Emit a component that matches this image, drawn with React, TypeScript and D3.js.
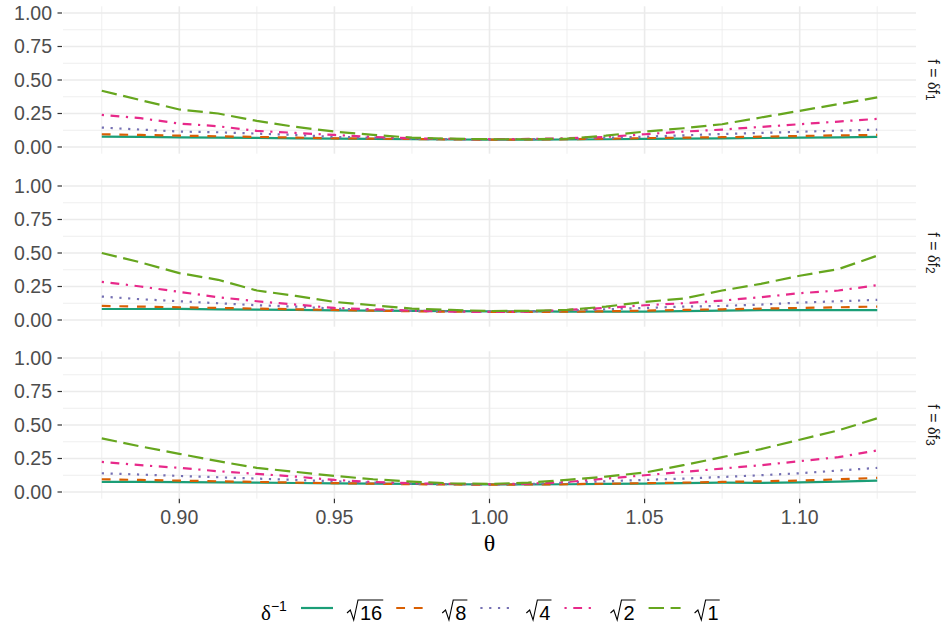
import React from "react";
import * as d3 from "d3";

// theta grid shared by every curve
const theta = [
  0.875, 0.8875, 0.9, 0.9125, 0.925, 0.9375, 0.95, 0.9625, 0.975, 0.9875, 1.0,
  1.0125, 1.025, 1.0375, 1.05, 1.0625, 1.075, 1.0875, 1.1, 1.1125, 1.125,
];

// delta^-1 levels, legend order
const deltaLabels = ["16", "8", "4", "2", "1"];
const lineColors = ["#1B9E77", "#D95F02", "#7570B3", "#E7298A", "#66A61E"];
const lineDashes = ["", "8.8 8.8", "2.2 6.6", "2.2 6.6 8.8 6.6", "15.4 6.6"];

// facet f = delta f1
const f1_sqrt16 = [0.077, 0.075, 0.072, 0.07, 0.068, 0.065, 0.063, 0.06, 0.058, 0.056, 0.055, 0.055, 0.056, 0.058, 0.06, 0.062, 0.065, 0.067, 0.07, 0.072, 0.075];
const f1_sqrt8 = [0.095, 0.09, 0.085, 0.08, 0.075, 0.07, 0.065, 0.062, 0.06, 0.057, 0.055, 0.056, 0.058, 0.062, 0.066, 0.07, 0.073, 0.077, 0.082, 0.087, 0.09];
const f1_sqrt4 = [0.145, 0.13, 0.115, 0.11, 0.1, 0.09, 0.075, 0.07, 0.06, 0.058, 0.057, 0.058, 0.06, 0.068, 0.077, 0.087, 0.097, 0.105, 0.114, 0.122, 0.13];
const f1_sqrt2 = [0.24, 0.215, 0.175, 0.155, 0.12, 0.105, 0.09, 0.075, 0.065, 0.06, 0.058, 0.06, 0.065, 0.075, 0.095, 0.115, 0.13, 0.15, 0.17, 0.19, 0.21];
const f1_sqrt1 = [0.42, 0.35, 0.28, 0.25, 0.195, 0.15, 0.115, 0.09, 0.07, 0.062, 0.058, 0.058, 0.062, 0.085, 0.115, 0.14, 0.17, 0.22, 0.27, 0.32, 0.37];

// facet f = delta f2
const f2_sqrt16 = [0.082, 0.082, 0.083, 0.08, 0.078, 0.075, 0.072, 0.07, 0.068, 0.066, 0.065, 0.064, 0.063, 0.062, 0.063, 0.066, 0.07, 0.073, 0.074, 0.074, 0.074];
const f2_sqrt8 = [0.105, 0.1, 0.095, 0.09, 0.085, 0.08, 0.075, 0.07, 0.065, 0.062, 0.06, 0.06, 0.062, 0.065, 0.07, 0.075, 0.08, 0.085, 0.09, 0.095, 0.1];
const f2_sqrt4 = [0.175, 0.155, 0.14, 0.125, 0.11, 0.1, 0.085, 0.075, 0.068, 0.065, 0.063, 0.065, 0.07, 0.08, 0.09, 0.1, 0.105, 0.115, 0.13, 0.14, 0.15];
const f2_sqrt2 = [0.285, 0.25, 0.21, 0.17, 0.14, 0.115, 0.09, 0.08, 0.07, 0.063, 0.06, 0.062, 0.075, 0.09, 0.11, 0.125, 0.145, 0.17, 0.2, 0.22, 0.26];
const f2_sqrt1 = [0.5, 0.43, 0.35, 0.3, 0.22, 0.18, 0.135, 0.11, 0.085, 0.075, 0.067, 0.068, 0.075, 0.1, 0.135, 0.16, 0.22, 0.27, 0.33, 0.38, 0.48];

// facet f = delta f3
const f3_sqrt16 = [0.075, 0.075, 0.074, 0.072, 0.07, 0.067, 0.065, 0.062, 0.06, 0.058, 0.057, 0.057, 0.058, 0.06, 0.063, 0.066, 0.07, 0.068, 0.072, 0.078, 0.085];
const f3_sqrt8 = [0.095, 0.09, 0.085, 0.08, 0.075, 0.07, 0.066, 0.062, 0.058, 0.056, 0.055, 0.056, 0.058, 0.062, 0.066, 0.07, 0.075, 0.08, 0.085, 0.095, 0.105];
const f3_sqrt4 = [0.14, 0.13, 0.12, 0.11, 0.1, 0.09, 0.08, 0.07, 0.062, 0.058, 0.056, 0.06, 0.07, 0.08, 0.09, 0.1, 0.112, 0.125, 0.14, 0.16, 0.18];
const f3_sqrt2 = [0.225, 0.2, 0.18, 0.155, 0.135, 0.115, 0.09, 0.075, 0.065, 0.06, 0.058, 0.062, 0.075, 0.1, 0.125, 0.15, 0.175, 0.2, 0.23, 0.26, 0.31];
const f3_sqrt1 = [0.4, 0.34, 0.285, 0.23, 0.18, 0.15, 0.12, 0.095, 0.077, 0.065, 0.06, 0.07, 0.09, 0.115, 0.145, 0.2, 0.26, 0.32, 0.39, 0.46, 0.55];

const facetLabels = ["1", "2", "3"];
const facetSeries = [
  [f1_sqrt16, f1_sqrt8, f1_sqrt4, f1_sqrt2, f1_sqrt1],
  [f2_sqrt16, f2_sqrt8, f2_sqrt4, f2_sqrt2, f2_sqrt1],
  [f3_sqrt16, f3_sqrt8, f3_sqrt4, f3_sqrt2, f3_sqrt1],
];

const xMajor = [0.9, 0.95, 1.0, 1.05, 1.1];
const xMinor = [0.875, 0.925, 0.975, 1.025, 1.075, 1.125];
const yMajor = [0, 0.25, 0.5, 0.75, 1.0];
const yMinor = [0.125, 0.375, 0.625, 0.875];

const W = 951;
const H = 628;
const SANS = "'Liberation Sans', Arial, Helvetica, sans-serif";
const SERIF = "'Liberation Serif', 'Times New Roman', serif";

const panelLeft = 63;
const panelRight = 916;
const panelTops = [6.3, 179.3, 351.3];
const panelH = 147.4;
const grid = "#EBEBEB";
const axisText = "#4D4D4D";

export default function App() {
  const x = d3.scaleLinear().domain([0.8625, 1.1375]).range([panelLeft, panelRight]);
  const lastBottom = panelTops[2] + panelH;

  // legend layout
  const legendY = 608;
  const labelFs = 20;
  const digitW = 0.556 * labelFs;
  let cur = 301;
  const legendItems = deltaLabels.map((lab, i) => {
    const keyX = cur;
    const labX = keyX + 46;
    const textW = lab.length * digitW;
    const labW = 13 + textW;
    cur = labX + labW + 14;
    return { lab, i, keyX, labX, textW };
  });

  return (
    <svg width={W} height={H} style={{ position: "absolute", left: 0, top: 0, background: "#fff" }}>
      <rect width={W} height={H} fill="#fff" />
      {panelTops.map((top, p) => {
        const y = d3.scaleLinear().domain([-0.05, 1.05]).range([top + panelH, top]);
        const line = d3
          .line<number>()
          .x((_, k) => x(theta[k]))
          .y((d) => y(d));
        return (
          <g key={p}>
            {yMinor.map((v) => (
              <line key={"ym" + v} x1={panelLeft} x2={panelRight} y1={y(v)} y2={y(v)} stroke={grid} strokeWidth={0.8} />
            ))}
            {xMinor.map((v) => (
              <line key={"xm" + v} x1={x(v)} x2={x(v)} y1={top} y2={top + panelH} stroke={grid} strokeWidth={0.8} />
            ))}
            {yMajor.map((v) => (
              <line key={"yM" + v} x1={panelLeft} x2={panelRight} y1={y(v)} y2={y(v)} stroke={grid} strokeWidth={1.6} />
            ))}
            {xMajor.map((v) => (
              <line key={"xM" + v} x1={x(v)} x2={x(v)} y1={top} y2={top + panelH} stroke={grid} strokeWidth={1.6} />
            ))}
            {yMajor.map((v) => (
              <g key={"yt" + v}>
                <line x1={57.5} x2={62} y1={y(v)} y2={y(v)} stroke="#333333" strokeWidth={1.2} />
                <text x={52} y={y(v)} dy="0.35em" textAnchor="end" fontFamily={SANS} fontSize={19.5} fill={axisText}>
                  {d3.format(".2f")(v)}
                </text>
              </g>
            ))}
            {facetSeries[p].map((vals, s) => (
              <path
                key={s}
                d={line(vals) || ""}
                fill="none"
                stroke={lineColors[s]}
                strokeWidth={2.2}
                strokeDasharray={lineDashes[s] || undefined}
                strokeLinecap="butt"
                strokeLinejoin="round"
              />
            ))}
            <text
              transform={`translate(934, ${top + panelH / 2}) rotate(90)`}
              textAnchor="middle"
              dominantBaseline="central"
              fontSize={16}
              fill="#1A1A1A"
            >
              <tspan fontFamily={SANS}>f = </tspan>
              <tspan fontFamily={SERIF}>δ</tspan>
              <tspan fontFamily={SANS}>f</tspan>
              <tspan fontFamily={SANS} fontSize={12} dy={4}>
                {facetLabels[p]}
              </tspan>
            </text>
          </g>
        );
      })}

      {xMajor.map((v) => (
        <g key={"xt" + v}>
          <line x1={x(v)} x2={x(v)} y1={lastBottom} y2={lastBottom + 4.5} stroke="#333333" strokeWidth={1.2} />
          <text x={x(v)} y={524} textAnchor="middle" fontFamily={SANS} fontSize={19.5} fill={axisText}>
            {d3.format(".2f")(v)}
          </text>
        </g>
      ))}
      <text x={(panelLeft + panelRight) / 2} y={551} textAnchor="middle" fontFamily={SERIF} fontSize={24} fill="#000">
        θ
      </text>

      {/* legend */}
      <text x={261} y={620} fontFamily={SERIF} fontSize={21} fill="#000">
        δ
        <tspan fontFamily={SANS} fontSize={14} dy={-9}>
          −1
        </tspan>
      </text>
      {legendItems.map(({ lab, i, keyX, labX, textW }) => {
        const b = 620;
        const rad = `M${labX},${b - 7} L${labX + 3.3},${b - 10} L${labX + 6.7},${b} L${labX + 11},${b - 20} H${labX + 13 + textW + 1}`;
        return (
          <g key={lab}>
            <line
              x1={keyX}
              x2={keyX + 32}
              y1={legendY}
              y2={legendY}
              stroke={lineColors[i]}
              strokeWidth={2.2}
              strokeDasharray={lineDashes[i] || undefined}
            />
            <path d={rad} fill="none" stroke="#000" strokeWidth={1.1} strokeLinejoin="miter" />
            <text x={labX + 13} y={b} fontFamily={SANS} fontSize={labelFs} fill="#000">
              {lab}
            </text>
          </g>
        );
      })}
    </svg>
  );
}
